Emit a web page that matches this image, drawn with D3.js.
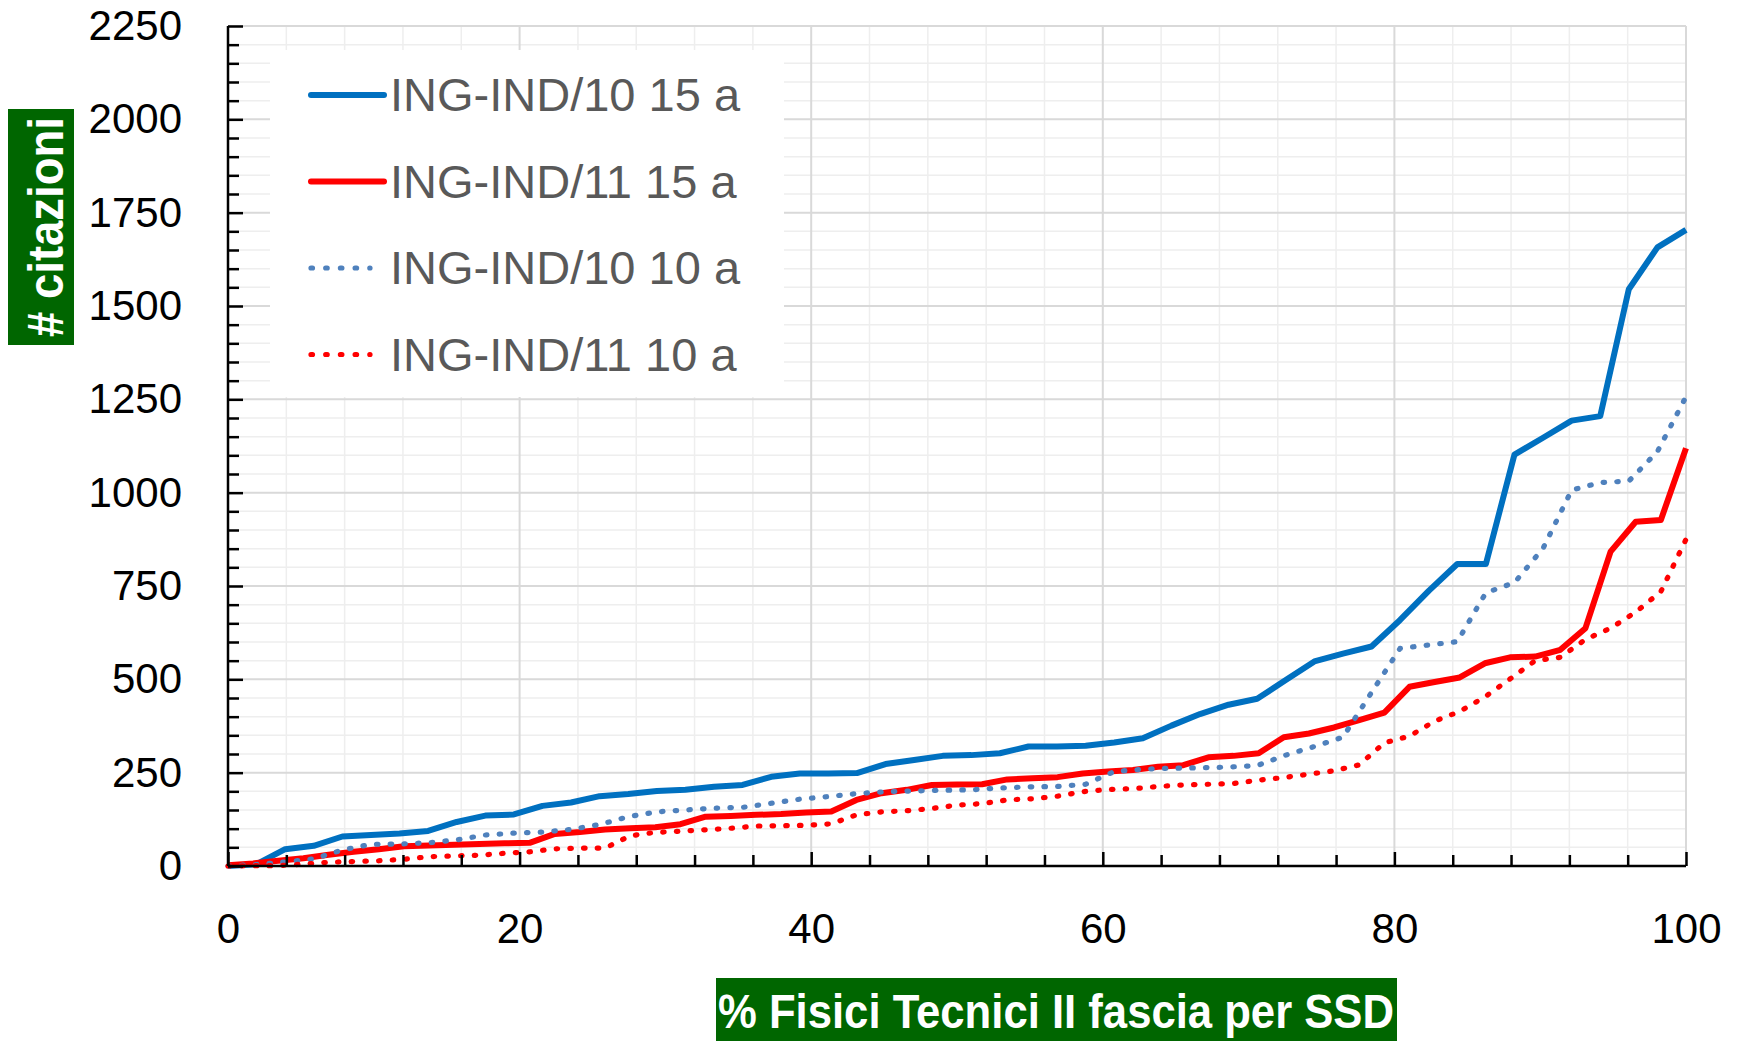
<!DOCTYPE html>
<html lang="it">
<head>
<meta charset="UTF-8">
<title># citazioni - Fisici Tecnici II fascia</title>
<script src="https://d3js.org/d3.v7.min.js"></script>
<style>
    body { margin: 0; background: #fff; }
    .tick text { font-family: "Liberation Sans", Arial, sans-serif; font-size: 42px; fill: #000; }
    .axis path, .axis line { stroke: #000; stroke-width: 2.5px; }
    .grid-minor { stroke: #eeeeee; stroke-width: 1.5px; }
    .grid-major { stroke: #d9d9d9; stroke-width: 2px; }
    .legend text { font-family: "Liberation Sans", Arial, sans-serif; font-size: 47px; fill: #595959; }
    .title { font-family: "Liberation Sans", Arial, sans-serif; font-weight: bold; fill: #fff; }
</style>
</head>
<body>
<div id="chart"></div>
<script>
// citations ranked, per SSD (15 yrs / 10 yrs windows)
const ind10_15 = [0, 5, 45, 54, 79, 83, 87, 94, 118, 135, 138, 161, 170, 187, 193, 201, 204, 212, 217, 239,
    248, 248, 249, 273, 284, 295, 297, 302, 320, 320, 322, 331, 342, 376, 407, 432, 448, 498, 548, 569,
    588, 659, 737, 809, 809, 1102, 1147, 1193, 1205, 1545, 1657, 1704];
const ind10_10 = [0, 4, 11, 19, 43, 58, 59, 62, 70, 83, 88, 91, 98, 111, 132, 145, 150, 155, 157, 168,
    179, 186, 194, 199, 201, 203, 204, 209, 212, 213, 219, 253, 259, 262, 263, 265, 269, 297, 320, 345,
    465, 583, 592, 601, 732, 759, 851, 1007, 1027, 1031, 1110, 1257];
const ind11_15 = [2, 7, 14, 21, 30, 38, 45, 53, 55, 57, 59, 61, 62, 86, 91, 98, 101, 104, 112, 132,
    134, 137, 139, 143, 146, 177, 195, 204, 217, 218, 219, 232, 235, 238, 248, 253, 257, 266, 270, 291,
    295, 302, 345, 355, 371, 391, 411, 480, 493, 505, 543, 559, 561, 579, 637, 842, 922, 927, 1119];
const ind11_10 = [0, 1, 1, 5, 10, 12, 14, 18, 25, 27, 29, 34, 38, 46, 48, 48, 81, 90, 93, 97,
    101, 107, 108, 109, 113, 137, 145, 148, 154, 163, 167, 177, 180, 187, 199, 205, 207, 213, 217, 219,
    221, 230, 237, 246, 255, 271, 330, 348, 388, 414, 453, 501, 550, 559, 607, 637, 680, 735, 875];

const seriesNames = ["ING-IND/10 15 a", "ING-IND/11 15 a", "ING-IND/10 10 a", "ING-IND/11 10 a"];
const seriesValues = [ind10_15, ind11_15, ind10_10, ind11_10];
const seriesColors = ["#0070c0", "#ff0000", "#4f81bd", "#ff0000"];
const seriesDotted = [false, false, true, true];

const xTickLabels = [0, 20, 40, 60, 80, 100];
const yTickLabels = [0, 250, 500, 750, 1000, 1250, 1500, 1750, 2000, 2250];

const W = 1739, H = 1041;
const x0 = 228, x1 = 1686, yTop = 26, yBot = 866;

const svg = d3.select("#chart").append("svg")
    .attr("width", W)
    .attr("height", H);

const x = d3.scaleLinear().domain([0, 100]).range([x0, x1]);
const y = d3.scaleLinear().domain([0, 2250]).range([yBot, yTop]);

// gridlines
const minorY = d3.range(0, 2251, 50).filter(v => v % 250 !== 0);
const minorX = d3.range(0, 101, 4).filter(v => v % 20 !== 0);

svg.append("g").selectAll("line").data(minorY).join("line")
    .attr("class", "grid-minor")
    .attr("x1", x0).attr("x2", x1)
    .attr("y1", d => y(d)).attr("y2", d => y(d));
svg.append("g").selectAll("line").data(minorX).join("line")
    .attr("class", "grid-minor")
    .attr("x1", d => x(d)).attr("x2", d => x(d))
    .attr("y1", yTop).attr("y2", yBot);
svg.append("g").selectAll("line").data(yTickLabels).join("line")
    .attr("class", "grid-major")
    .attr("x1", x0).attr("x2", x1)
    .attr("y1", d => y(d)).attr("y2", d => y(d));
svg.append("g").selectAll("line").data(xTickLabels).join("line")
    .attr("class", "grid-major")
    .attr("x1", d => x(d)).attr("x2", d => x(d))
    .attr("y1", yTop).attr("y2", yBot);

// series
seriesValues.forEach((vals, k) => {
    const n = vals.length;
    const pts = vals.map((v, i) => [i / (n - 1) * 100, v]);
    const line = d3.line().x(d => x(d[0])).y(d => y(d[1]));
    const p = svg.append("path")
        .datum(pts)
        .attr("fill", "none")
        .attr("stroke", seriesColors[k])
        .attr("d", line);
    if (seriesDotted[k]) {
        p.attr("stroke-width", 5.2)
         .attr("stroke-linecap", "round")
         .attr("stroke-dasharray", "1.5,12.2");
    } else {
        p.attr("stroke-width", 6)
         .attr("stroke-linejoin", "round");
    }
});

// legend
const legend = svg.append("g").attr("class", "legend");
legend.append("rect")
    .attr("x", 270).attr("y", 50)
    .attr("width", 514).attr("height", 347)
    .attr("fill", "#fff");
const legendOrder = [0, 1, 2, 3];
legendOrder.forEach((k, j) => {
    const ly = 95 + j * 86.5;
    legend.append("line")
        .attr("x1", 311).attr("x2", seriesDotted[k] ? 370 : 384)
        .attr("y1", ly).attr("y2", ly)
        .attr("stroke", seriesColors[k])
        .attr("stroke-width", seriesDotted[k] ? 5.2 : 6)
        .attr("stroke-linecap", "round")
        .attr("stroke-dasharray", seriesDotted[k] ? "1.5,13.2" : null);
    legend.append("text")
        .attr("x", 390).attr("y", ly + 16)
        .text(seriesNames[k]);
});

// axes
const yMinorAxis = d3.axisLeft(y).tickValues(minorY).tickSize(-11).tickFormat("");
const yAxis = d3.axisLeft(y).tickValues(yTickLabels).tickSize(-15).tickPadding(46).tickFormat(d3.format("d"));
const xMinorAxis = d3.axisBottom(x).tickValues(minorX).tickSize(-11).tickFormat("");
const xAxis = d3.axisBottom(x).tickValues(xTickLabels).tickSize(-14).tickPadding(47).tickFormat(d3.format("d"));

svg.append("g").attr("class", "axis").attr("transform", `translate(${x0},0)`).call(yMinorAxis)
    .select(".domain").remove();
svg.append("g").attr("class", "axis").attr("transform", `translate(${x0},0)`).call(yAxis)
    .select(".domain").attr("d", `M0,${yTop}V${yBot}`);
svg.append("g").attr("class", "axis").attr("transform", `translate(0,${yBot})`).call(xMinorAxis)
    .select(".domain").remove();
svg.append("g").attr("class", "axis").attr("transform", `translate(0,${yBot})`).call(xAxis)
    .select(".domain").attr("d", `M${x0},0H${x1}`);

// axis titles
svg.append("rect")
    .attr("x", 8).attr("y", 109).attr("width", 66).attr("height", 236)
    .attr("fill", "#006600");
svg.append("text")
    .attr("class", "title")
    .attr("transform", "translate(63,227) rotate(-90)")
    .attr("text-anchor", "middle")
    .attr("font-size", 50)
    .attr("textLength", 220)
    .attr("lengthAdjust", "spacingAndGlyphs")
    .text("# citazioni");

svg.append("rect")
    .attr("x", 716).attr("y", 978).attr("width", 681).attr("height", 70)
    .attr("fill", "#006600");
svg.append("text")
    .attr("class", "title")
    .attr("x", 1056).attr("y", 1028)
    .attr("text-anchor", "middle")
    .attr("font-size", 48)
    .attr("textLength", 676)
    .attr("lengthAdjust", "spacingAndGlyphs")
    .text("% Fisici Tecnici II fascia per SSD");
</script>
</body>
</html>
